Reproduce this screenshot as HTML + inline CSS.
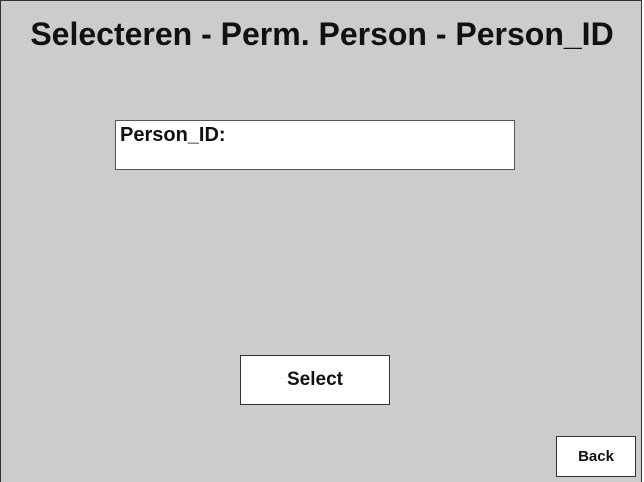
<!DOCTYPE html>
<html><head><style>
body{margin:0;background:#fff;}
.f{position:absolute;left:0;top:0;width:640px;height:481px;border:1px solid #333;border-bottom:none;background:#cccccc;font-family:"Liberation Sans",sans-serif;}
.t{position:absolute;left:0;width:642px;top:15px;text-align:center;font-size:32px;font-weight:bold;color:#111;}
.b{position:absolute;background:#fff;border:1px solid #555;box-sizing:border-box;}
</style></head><body>
<div class="f">
<div class="t">Selecteren - Perm. Person - Person_ID</div>
<div class="b" style="left:114px;top:119px;width:400px;height:50px;"><span style="position:absolute;left:4px;top:3px;font-size:20px;font-weight:bold;color:#111">Person_ID:</span></div>
<div class="b" style="left:239px;top:354px;width:150px;height:50px;border-color:#333;text-align:center;line-height:48px;font-size:19px;font-weight:bold;color:#111">Select</div>
<div class="b" style="left:555px;top:435px;width:80px;height:41px;border-color:#333;text-align:center;line-height:40px;font-size:15px;font-weight:bold;color:#111">Back</div>
</div>
</body></html>
